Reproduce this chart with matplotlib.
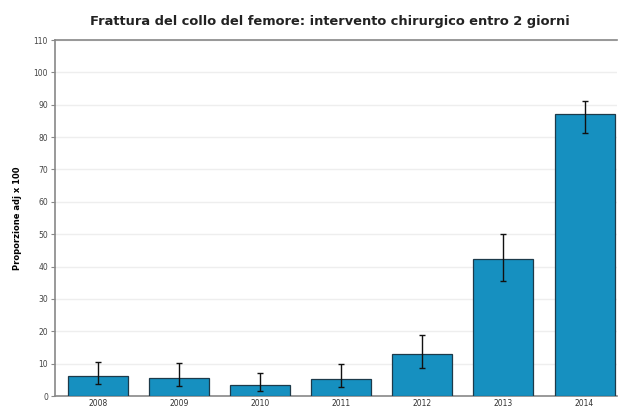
import matplotlib
matplotlib.use("Agg")
import matplotlib.pyplot as plt
import numpy as np

# data
anni = ["2008", "2009", "2010", "2011", "2012", "2013", "2014"]
proporzione = [6.1, 5.6, 3.3, 5.2, 12.9, 42.3, 87.0]
ic_inf = [3.6, 3.2, 1.6, 2.9, 8.8, 35.5, 81.4]
ic_sup = [10.5, 10.1, 7.2, 10.0, 18.9, 50.0, 91.0]

fig = plt.figure(figsize=(6.21, 4.11), dpi=100)
ax = fig.add_axes([55 / 621, 15 / 411, 562 / 621, 356 / 411])

x = np.arange(len(anni))
err = [np.array(proporzione) - np.array(ic_inf), np.array(ic_sup) - np.array(proporzione)]

ax.bar(x, proporzione, width=0.74, color="#1690c0", edgecolor="#1d3a4a",
       linewidth=0.9, zorder=3)
ax.errorbar(x, proporzione, yerr=err, fmt="none", ecolor="#111111",
            elinewidth=1.0, capsize=2.5, capthick=1.0, zorder=4)

ax.set_xlim(-0.53, 6.4)
ax.set_ylim(0, 110)
ax.set_yticks(np.arange(0, 111, 10))
ax.set_xticks(x)
ax.set_xticklabels(anni)
ax.yaxis.grid(True, color="#eeeeee", linewidth=1.0, zorder=0)

for s in ["top", "left", "bottom"]:
    ax.spines[s].set_color("#888888")
    ax.spines[s].set_linewidth(1.2)
ax.spines["right"].set_visible(False)

ax.tick_params(axis="y", labelsize=5.5, length=3, color="#888888", labelcolor="#444444", pad=2)
ax.tick_params(axis="x", labelsize=5.5, length=0, labelcolor="#333333", pad=2)

ax.set_ylabel("Proporzione adj x 100", fontsize=6, fontweight="bold", labelpad=8)
fig.text(330 / 621, 1 - 21 / 411,
         "Frattura del collo del femore: intervento chirurgico entro 2 giorni",
         ha="center", va="center", fontsize=9.4, fontweight="bold", color="#222222")

fig.savefig("out.png", dpi=100)
